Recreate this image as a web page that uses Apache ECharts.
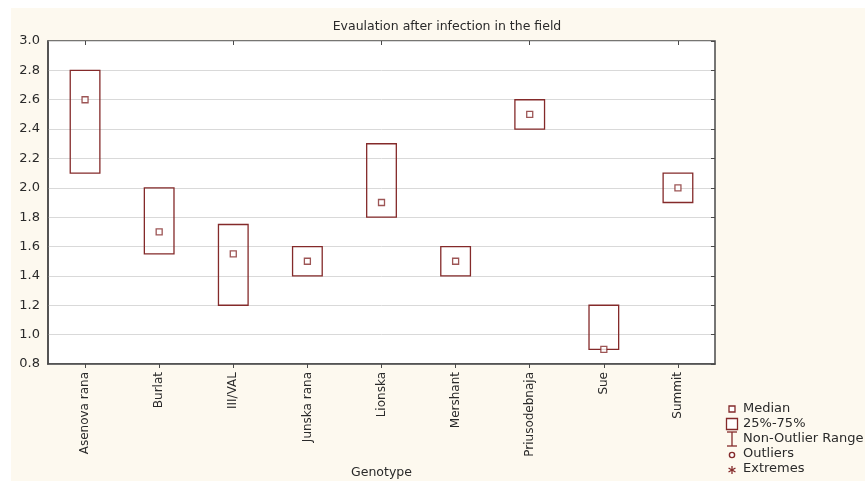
<!DOCTYPE html>
<html>
<head>
<meta charset="utf-8">
<script src="https://cdn.jsdelivr.net/npm/echarts@6/dist/echarts.min.js"></script>
<style>
  html, body { margin: 0; padding: 0; background: #ffffff; }
  #chart { width: 865px; height: 481px; }
</style>
</head>
<body>
<div id="chart"></div>
<script>
// Genotypes on the category axis
const genotypes = ['Asenova rana', 'Burlat', 'III/VAL', 'Junska rana', 'Lionska',
                   'Mershant', 'Priusodebnaja', 'Sue', 'Summit'];
// Quartiles and medians of the field scores
const q1Values     = [2.1, 1.55, 1.2, 1.4, 1.8, 1.4, 2.4, 0.9, 1.9];
const q3Values     = [2.8, 2.0, 1.75, 1.6, 2.3, 1.6, 2.6, 1.2, 2.1];
const medianValues = [2.6, 1.7, 1.55, 1.5, 1.9, 1.5, 2.5, 0.9, 2.0];
// Value axis ticks
const yTicks = ['0.8', '1.0', '1.2', '1.4', '1.6', '1.8', '2.0', '2.2', '2.4', '2.6', '2.8', '3.0'];

const BOX = '#842a2a';
const FONT = 'DejaVu Sans';
const TEXT = '#2a2a2a';

const chart = echarts.init(document.getElementById('chart'));

const boxData = genotypes.map((g, i) => [i, q1Values[i], q3Values[i]]);
const medianData = genotypes.map((g, i) => [i, medianValues[i]]);

const legendItems = ['Median', '25%-75%', 'Non-Outlier Range', 'Outliers', 'Extremes'];
const legendX = 732, legendTextX = 743, legendY0 = 409, legendStep = 15;

const graphics = [
  // cream panel
  { type: 'rect', z: -10, silent: true,
    shape: { x: 11, y: 8, width: 854, height: 473 },
    style: { fill: '#fdf9ef' } }
];
legendItems.forEach((name, k) => {
  const cy = legendY0 + k * legendStep;
  graphics.push({ type: 'text', x: legendTextX, y: cy,
    style: { text: name, fill: TEXT, font: '13px "' + FONT + '"',
             textAlign: 'left', textVerticalAlign: 'middle' } });
});
// legend keys
graphics.push({ type: 'rect', shape: { x: legendX - 3, y: legendY0 - 3, width: 6, height: 6 },
  style: { fill: '#fff', stroke: BOX, lineWidth: 1.3 } });
graphics.push({ type: 'rect', shape: { x: legendX - 5.5, y: legendY0 + legendStep - 5.5, width: 11, height: 11 },
  style: { fill: '#fff', stroke: BOX, lineWidth: 1.3 } });
(function () {
  const cy = legendY0 + 2 * legendStep;
  graphics.push({ type: 'polyline', shape: { points: [[legendX - 5, cy - 7], [legendX + 5, cy - 7]] }, style: { stroke: BOX, lineWidth: 1.3 } });
  graphics.push({ type: 'polyline', shape: { points: [[legendX, cy - 7], [legendX, cy + 7]] }, style: { stroke: BOX, lineWidth: 1.3 } });
  graphics.push({ type: 'polyline', shape: { points: [[legendX - 5, cy + 7], [legendX + 5, cy + 7]] }, style: { stroke: BOX, lineWidth: 1.3 } });
})();
graphics.push({ type: 'circle', shape: { cx: legendX, cy: legendY0 + 3 * legendStep + 1, r: 2.6 },
  style: { fill: '#fff', stroke: BOX, lineWidth: 1.4 } });
(function () {
  const cx = legendX, cy = legendY0 + 4 * legendStep + 1, r = 4;
  for (let a = 0; a < 3; a++) {
    const ang = Math.PI / 2 + a * Math.PI / 3;
    graphics.push({ type: 'polyline',
      shape: { points: [[cx - r * Math.cos(ang), cy - r * Math.sin(ang)], [cx + r * Math.cos(ang), cy + r * Math.sin(ang)]] },
      style: { stroke: BOX, lineWidth: 1.3 } });
  }
})();

const option = {
  backgroundColor: '#ffffff',
  animation: false,
  title: {
    text: 'Evaulation after infection in the field',
    left: 442, top: 15, textAlign: 'center',
    textStyle: { fontFamily: FONT, fontSize: 12.5, fontWeight: 'normal', color: TEXT }
  },
  graphic: graphics,
  grid: {
    left: 48, top: 41, right: 150, bottom: 117,
    outerBoundsMode: 'none', containLabel: false,
    show: true, backgroundColor: '#ffffff', borderColor: '#4a4a4a', borderWidth: 1.5
  },
  xAxis: [{
    type: 'category', data: genotypes, position: 'bottom', boundaryGap: true,
    name: 'Genotype', nameLocation: 'middle', nameGap: 102,
    nameTextStyle: { fontFamily: FONT, fontSize: 12.5, color: TEXT },
    axisLine: { show: true, lineStyle: { color: '#4a4a4a', width: 1.5 } },
    axisTick: { show: true, alignWithLabel: true, length: 4, lineStyle: { color: '#4a4a4a' } },
    axisLabel: { rotate: 90, margin: 8, fontFamily: FONT, fontSize: 12, color: TEXT, interval: 0 },
    splitLine: { show: false }
  }, {
    type: 'category', data: genotypes, position: 'top', boundaryGap: true,
    axisLine: { show: false },
    axisTick: { show: true, inside: true, alignWithLabel: true, length: 4, lineStyle: { color: '#4a4a4a' } },
    axisLabel: { show: false }, splitLine: { show: false }
  }],
  yAxis: [{
    type: 'value', min: 0.8, max: 3.0, interval: 0.2, position: 'left',
    axisLine: { show: true, lineStyle: { color: '#4a4a4a', width: 1.5 } },
    axisTick: { show: false },
    axisLabel: { margin: 8, fontFamily: FONT, fontSize: 13, color: TEXT,
                 formatter: (v) => yTicks.find(t => Math.abs(parseFloat(t) - v) < 1e-6) || '' },
    splitLine: { show: true, lineStyle: { color: '#d9d9d9', width: 1 } }
  }, {
    type: 'value', min: 0.8, max: 3.0, interval: 0.2, position: 'right',
    axisLine: { show: false },
    axisTick: { show: true, inside: true, length: 4, lineStyle: { color: '#4a4a4a' } },
    axisLabel: { show: false }, splitLine: { show: false }
  }],
  series: [{
    name: '25%-75%', type: 'custom', xAxisIndex: 0, yAxisIndex: 0,
    data: boxData,
    encode: { x: 0, y: [1, 2] },
    renderItem: function (params, api) {
      const x = api.value(0);
      const lo = api.coord([x, api.value(1)]);
      const hi = api.coord([x, api.value(2)]);
      const w = api.size([1, 0])[0] * 0.4;
      return {
        type: 'rect',
        shape: { x: lo[0] - w / 2, y: hi[1], width: w, height: lo[1] - hi[1] },
        style: { fill: 'rgba(255,255,255,0)', stroke: BOX, lineWidth: 1.3 }
      };
    },
    z: 3
  }, {
    name: 'Median', type: 'scatter', xAxisIndex: 0, yAxisIndex: 0,
    data: medianData, symbol: 'rect', symbolSize: 6,
    itemStyle: { color: '#ffffff', borderColor: BOX, borderWidth: 1.3 },
    z: 4
  }]
};

chart.setOption(option);
</script>
</body>
</html>
